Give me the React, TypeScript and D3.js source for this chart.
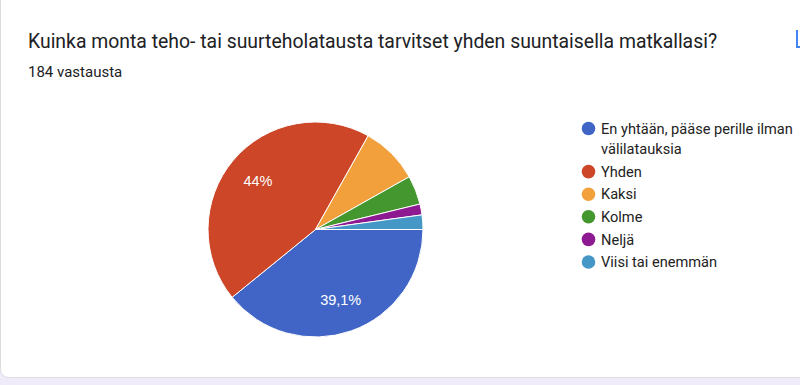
import React, { useEffect, useRef } from 'react';
import * as d3 from 'd3';

const categories = [
  'En yhtään, pääse perille ilman välilatauksia',
  'Yhden',
  'Kaksi',
  'Kolme',
  'Neljä',
  'Viisi tai enemmän',
];
const counts = [72, 81, 16, 8, 3, 4];
const colors = ['#4065c7', '#cc4627', '#f2a03c', '#44962f', '#8e1a92', '#4597c5'];

const title = 'Kuinka monta teho- tai suurteholatausta tarvitset yhden suuntaisella matkallasi?';
const subtitle = '184 vastausta';

const width = 800;
const height = 385;

function formatPct(v: number) {
  // Finnish decimal comma, one decimal, no trailing zero
  const s = d3.format('.1f')(v * 100).replace(/\.0$/, '');
  return s.replace('.', ',') + '%';
}

export default function App() {
  const ref = useRef<SVGSVGElement>(null);

  useEffect(() => {
    const svg = d3.select(ref.current);
    svg.selectAll('*').remove();

    // page background + card
    svg.append('rect').attr('width', width).attr('height', height).attr('fill', '#f0ebf8');
    svg.append('rect')
      .attr('x', 0.5).attr('y', -20)
      .attr('width', width + 20).attr('height', 397.5)
      .attr('rx', 8)
      .attr('fill', '#fff')
      .attr('stroke', '#dadce0')
      .attr('stroke-width', 1);

    svg.append('text')
      .attr('x', 28).attr('y', 48)
      .attr('font-family', 'Roboto')
      .attr('font-size', 19.4)
      .attr('fill', '#202124')
      .text(title);

    svg.append('text')
      .attr('x', 28).attr('y', 77)
      .attr('font-family', 'Roboto')
      .attr('font-size', 15)
      .attr('fill', '#202124')
      .text(subtitle);

    // partly visible icon at the right edge
    svg.append('path')
      .attr('d', 'M797,30 V47 H801')
      .attr('fill', 'none')
      .attr('stroke', '#4285f4')
      .attr('stroke-width', 2);

    const total = d3.sum(counts);
    const r = 107.5;
    const g = svg.append('g').attr('transform', 'translate(315.5,229.5)');

    const pie = d3.pie<number>()
      .sort(null)
      .value(d => d)
      .startAngle(Math.PI / 2)
      .endAngle(Math.PI / 2 + 2 * Math.PI);
    const arcs = pie(counts);

    const arc = d3.arc<d3.PieArcDatum<number>>().innerRadius(0).outerRadius(r);
    const labelArc = d3.arc<d3.PieArcDatum<number>>().innerRadius(r * 0.7).outerRadius(r * 0.7);

    g.selectAll('path.slice')
      .data(arcs)
      .enter()
      .append('path')
      .attr('class', 'slice')
      .attr('d', arc)
      .attr('fill', (d, i) => colors[i])
      .attr('stroke', '#fff')
      .attr('stroke-width', 1);

    g.selectAll('text.lbl')
      .data(arcs.filter(d => d.data / total > 0.1))
      .enter()
      .append('text')
      .attr('class', 'lbl')
      .attr('transform', d => 'translate(' + labelArc.centroid(d) + ')')
      .attr('text-anchor', 'middle')
      .attr('dy', '0.35em')
      .attr('font-family', 'Arial')
      .attr('font-size', 14.5)
      .attr('fill', '#fff')
      .text(d => formatPct(d.data / total));

    // legend
    const lines = [
      ['En yhtään, pääse perille ilman', 'välilatauksia'],
      ['Yhden'], ['Kaksi'], ['Kolme'], ['Neljä'], ['Viisi tai enemmän'],
    ];
    let y = 128.5;
    categories.forEach((c, i) => {
      const lg = svg.append('g');
      lg.append('circle')
        .attr('cx', 588.5).attr('cy', y)
        .attr('r', 6.8)
        .attr('fill', colors[i]);
      const t = lg.append('text')
        .attr('x', 601)
        .attr('y', y)
        .attr('font-family', 'Roboto')
        .attr('font-size', 14.6)
        .attr('fill', '#222');
      lines[i].forEach((l, k) => {
        t.append('tspan').attr('x', 601).attr('dy', k === 0 ? '0.35em' : 20.5).text(l);
      });
      y += 22.6 + (lines[i].length - 1) * 20.5;
    });
  }, []);

  return (
    <svg ref={ref} width={width} height={height}
      style={{ position: 'absolute', left: 0, top: 0, display: 'block' }} />
  );
}
